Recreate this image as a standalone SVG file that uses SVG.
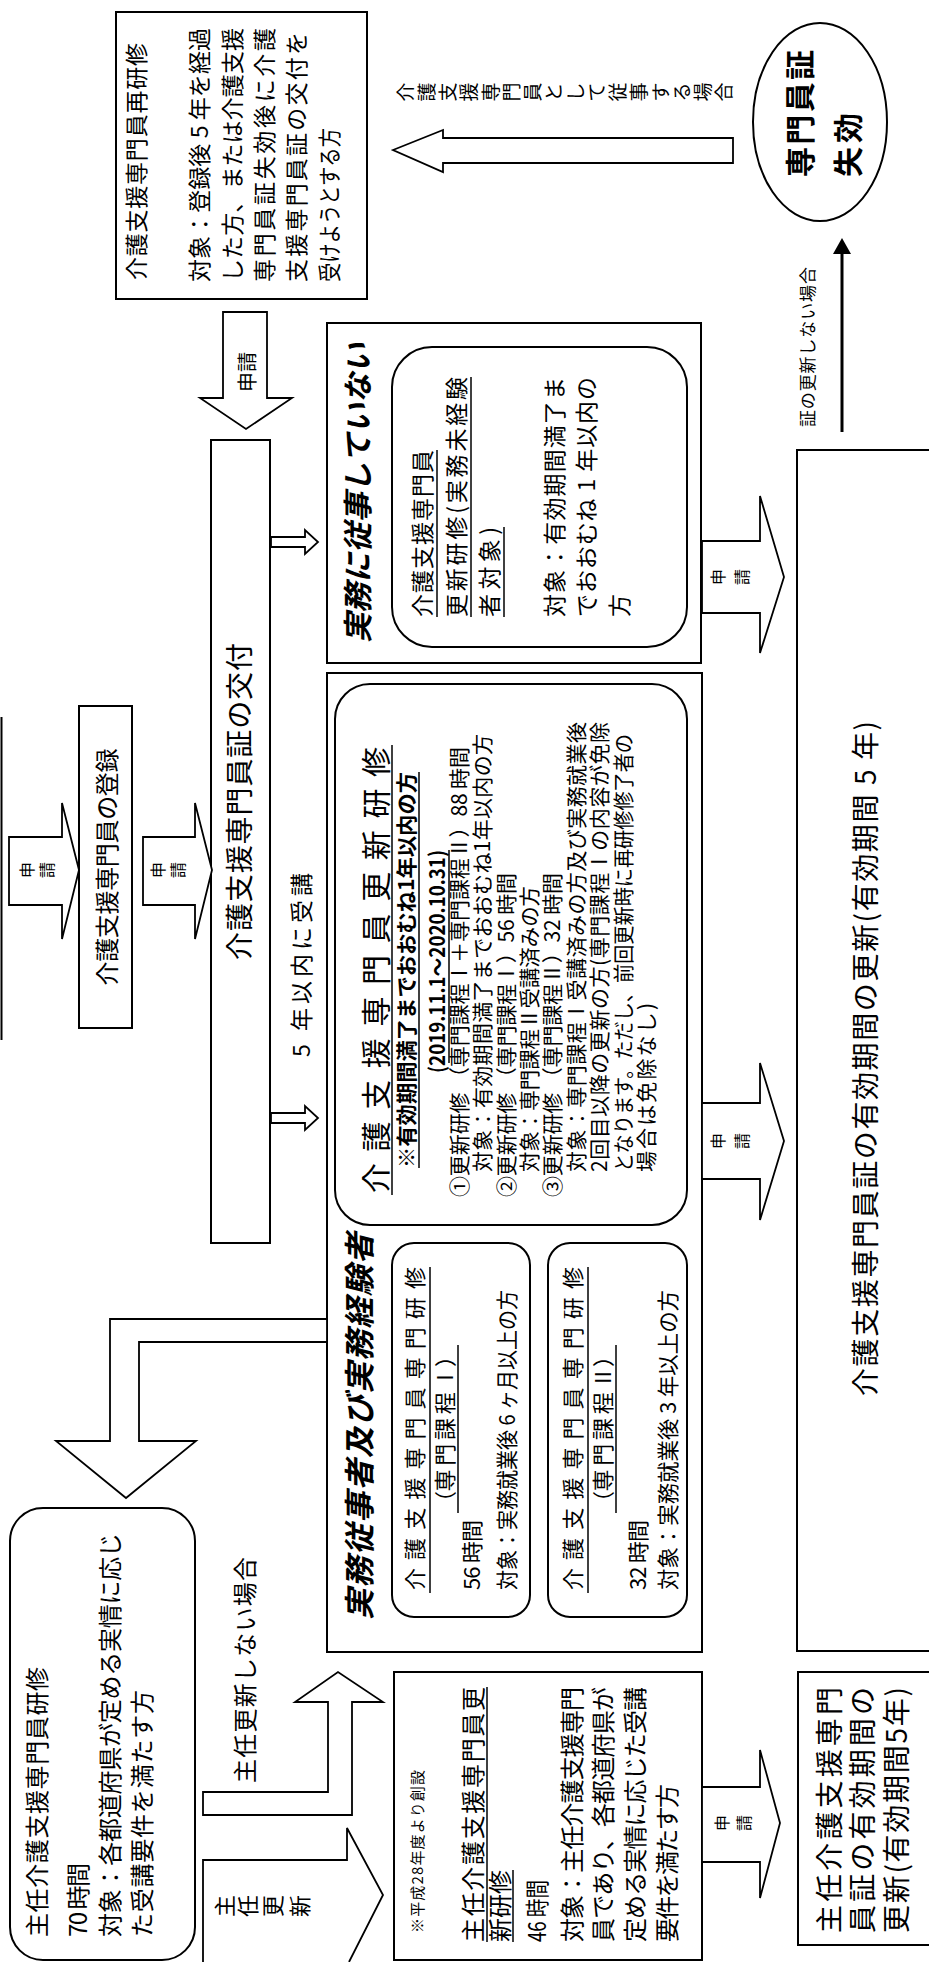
<svg xmlns="http://www.w3.org/2000/svg" width="929" height="1962" viewBox="0 0 929 1962">
<style>
.bx{fill:#fff;stroke:#000;stroke-width:2}
.ar{fill:#fff;stroke:#000;stroke-width:1.8;stroke-linejoin:miter}
.t{font-family:"Noto Sans CJK JP","Liberation Sans",sans-serif;fill:#000}
.ul{stroke:#000;stroke-width:1.5}
.bi{font-weight:bold;font-style:italic}
.b{font-weight:bold}
</style>
<rect x="0" y="0" width="929" height="1962" fill="#fff"/>
<g transform="translate(0,1962) rotate(-90)">
<g id="nodes">
<g id="n-edge"><line x1="922" y1="1.5" x2="1245" y2="1.5" stroke="#000" stroke-width="2"/></g>
<g id="n-saikenshu">
<rect class="bx" x="1663" y="116" width="287" height="251"/>
<text class="t" font-size="23" x="1682" y="145.4" textLength="237">介護支援専門員再研修</text>
<text class="t" font-size="23" x="1680" y="208" textLength="254">対象：登録後 5 年を経過</text>
<text class="t" font-size="23" x="1680" y="241" textLength="254">した方、または介護支援</text>
<text class="t" font-size="23" x="1680" y="273" textLength="254">専門員証失効後に介護</text>
<text class="t" font-size="23" x="1680" y="305" textLength="250">支援専門員証の交付を</text>
<text class="t" font-size="23" x="1680" y="338" textLength="154" lengthAdjust="spacingAndGlyphs">受けようとする方</text>
</g>
<g id="n-shikko">
<ellipse class="bx" cx="1840" cy="820" rx="99" ry="67"/>
<text class="t b" font-size="30" x="1785" y="811" textLength="127">専門員証</text>
<text class="t b" font-size="30" x="1785" y="859" textLength="64">失効</text>
</g>
<g id="n-toroku">
<rect class="bx" x="934" y="79" width="322" height="53"/>
<text class="t" font-size="24" x="1095" y="115.8" text-anchor="middle" textLength="237">介護支援専門員の登録</text>
</g>
<g id="n-kofu">
<rect class="bx" x="719" y="211" width="803" height="59"/>
<text class="t" font-size="28" x="1002" y="250" textLength="317">介護支援専門員証の交付</text>
</g>
<g id="n-mijumu">
<rect class="bx" x="1299" y="327" width="340" height="374"/>
<text class="t bi" font-size="30" x="1319" y="369" textLength="300">実務に従事していない</text>
<rect class="bx" x="1315" y="392" width="300" height="295" rx="40"/>
<text class="t" font-size="23" x="1345" y="431.4" textLength="167">介護支援専門員</text>
<line class="ul" x1="1345" y1="437" x2="1512" y2="437"/>
<text class="t" font-size="23" x="1345" y="465.4" textLength="240">更新研修(実務未経験</text>
<line class="ul" x1="1345" y1="471" x2="1585" y2="471"/>
<text class="t" font-size="23" x="1345" y="498.4" textLength="90">者対象)</text>
<line class="ul" x1="1345" y1="504" x2="1435" y2="504"/>
<text class="t" font-size="23" x="1345" y="563.4" textLength="240">対象：有効期間満了ま</text>
<text class="t" font-size="23" x="1345" y="595.4" textLength="240">でおおむね 1 年以内の</text>
<text class="t" font-size="23" x="1345" y="628.4">方</text>
</g>
<g id="n-jumu">
<rect class="bx" x="310" y="327" width="979" height="375"/>
<text class="t bi" font-size="31" x="342" y="371" textLength="387">実務従事者及び実務経験者</text>
<rect class="bx" x="737" y="335" width="541" height="352" rx="35"/>
<text class="t" font-size="30" x="769" y="387" textLength="446">介 護 支 援 専 門 員 更 新 研 修</text>
<line class="ul" x1="767" y1="392" x2="1217" y2="392"/>
<text class="t b" font-size="21" x="794" y="413.7" textLength="396" lengthAdjust="spacingAndGlyphs">※有効期間満了までおおむね1年以内の方</text>
<line class="ul" x1="794" y1="419" x2="1190" y2="419"/>
<text class="t b" font-size="21" x="889" y="444.7" textLength="223" lengthAdjust="spacingAndGlyphs">(2019.11.1～2020.10.31)</text>
<line class="ul" x1="899" y1="449" x2="1112" y2="449"/>
<text class="t" font-size="21" x="765" y="466.7" textLength="450">①更新研修 （専門課程Ⅰ＋専門課程Ⅱ）88 時間</text>
<text class="t" font-size="21" x="790" y="490.1" textLength="438">対象：有効期間満了までおおむね1年以内の方</text>
<text class="t" font-size="21" x="765" y="513.5" textLength="324">②更新研修 （専門課程Ⅰ）56 時間</text>
<text class="t" font-size="21" x="790" y="536.9" textLength="286" lengthAdjust="spacingAndGlyphs">対象：専門課程Ⅱ受講済みの方</text>
<text class="t" font-size="21" x="765" y="560.3" textLength="324">③更新研修 （専門課程Ⅱ）32 時間</text>
<text class="t" font-size="21" x="790" y="583.7" textLength="450">対象：専門課程Ⅰ受講済みの方及び実務就業後</text>
<text class="t" font-size="21" x="790" y="607.1" textLength="450">2回目以降の更新の方(専門課程Ⅰの内容が免除</text>
<text class="t" font-size="21" x="790" y="630.5" textLength="438" lengthAdjust="spacingAndGlyphs">となります。ただし、前回更新時に再研修修了者の</text>
<text class="t" font-size="21" x="790" y="653.9" textLength="169">場合は免除なし)</text>
<rect class="bx" x="345" y="392" width="374" height="138" rx="22"/>
<text class="t" font-size="22" x="372" y="423" textLength="323">介 護 支 援 専 門 員 専 門 研 修</text>
<line class="ul" x1="369" y1="430" x2="695" y2="430"/>
<text class="t" font-size="22" x="449" y="453" textLength="168">（専 門 課 程 Ⅰ）</text>
<line class="ul" x1="449" y1="458" x2="617" y2="458"/>
<text class="t" font-size="22" x="372" y="480" textLength="70">56 時間</text>
<text class="t" font-size="22" x="372" y="515" textLength="300" lengthAdjust="spacingAndGlyphs">対象：実務就業後 6 ヶ月以上の方</text>
<rect class="bx" x="345" y="548" width="374" height="139" rx="22"/>
<text class="t" font-size="22" x="372" y="581" textLength="323">介 護 支 援 専 門 員 専 門 研 修</text>
<line class="ul" x1="369" y1="588" x2="695" y2="588"/>
<text class="t" font-size="22" x="449" y="611" textLength="168">（専 門 課 程 Ⅱ）</text>
<line class="ul" x1="449" y1="616" x2="617" y2="616"/>
<text class="t" font-size="22" x="372" y="646" textLength="70">32 時間</text>
<text class="t" font-size="22" x="372" y="676" textLength="300" lengthAdjust="spacingAndGlyphs">対象：実務就業後 3 年以上の方</text>
</g>
<g id="n-shunin-kenshu">
<rect class="bx" x="2" y="10" width="452" height="185" rx="33"/>
<text class="t" font-size="24" x="25" y="45.8" textLength="270">主任介護支援専門員研修</text>
<text class="t" font-size="24" x="25" y="86.8" textLength="74">70 時間</text>
<text class="t" font-size="24" x="25" y="118.8" textLength="404">対象：各都道府県が定める実情に応じ</text>
<text class="t" font-size="24" x="25" y="150.8" textLength="247">た受講要件を満たす方</text>
</g>
<g id="n-shunin-koshin">
<rect class="bx" x="2" y="394" width="288" height="308"/>
<text class="t" font-size="15" x="29" y="422.5" textLength="163">※平成28年度より創設</text>
<text class="t" font-size="24" x="20" y="481.8" textLength="255">主任介護支援専門員更</text>
<line class="ul" x1="20" y1="487" x2="275" y2="487"/>
<text class="t" font-size="24" x="20" y="508.8" textLength="72">新研修</text>
<line class="ul" x1="20" y1="513" x2="92" y2="513"/>
<text class="t" font-size="24" x="20" y="545.8" textLength="62" lengthAdjust="spacingAndGlyphs">46 時間</text>
<text class="t" font-size="24" x="20" y="580.8" textLength="255">対象：主任介護支援専門</text>
<text class="t" font-size="24" x="20" y="611.8" textLength="255">員であり、各都道府県が</text>
<text class="t" font-size="24" x="20" y="643.8" textLength="255">定める実情に応じた受講</text>
<text class="t" font-size="24" x="20" y="675.8" textLength="158">要件を満たす方</text>
</g>
<g id="n-shunin-yuko">
<rect class="bx" x="17" y="798" width="273" height="132"/>
<text class="t" font-size="28" x="29" y="840" textLength="246">主任介護支援専門</text>
<text class="t" font-size="28" x="29" y="873" textLength="246">員証の有効期間の</text>
<text class="t" font-size="28" x="29" y="907" textLength="246">更新(有効期間5年)</text>
</g>
<g id="n-yuko">
<rect class="bx" x="311" y="797" width="1201" height="133"/>
<text class="t" font-size="28" x="566" y="876" textLength="675">介護支援専門員証の有効期間の更新(有効期間 5 年)</text>
</g>
</g>
<g id="connectors">
<polygon class="ar" points="1057,9 1125,9 1125,62 1159,62 1092,79 1023,62 1057,62"/>
<text class="t" font-size="16" text-anchor="middle"><tspan x="1092" y="32.8">申</tspan><tspan x="1092" y="52.8">請</tspan></text>
<polygon class="ar" points="1057,143 1125,143 1125,195 1159,195 1092,212 1023,195 1057,195"/>
<text class="t" font-size="16" text-anchor="middle"><tspan x="1092" y="163.8">申</tspan><tspan x="1092" y="183.8">請</tspan></text>
<polygon class="ar" points="1650,223 1564,223 1564,200 1533,246 1564,292 1564,267 1650,267"/>
<text class="t" font-size="20" x="1590" y="255" text-anchor="middle">申請</text>
<polygon class="ar" points="1812,393 1832,443 1824,443 1824,733 1799,733 1799,443 1790,443"/>
<text class="t" font-size="19" text-anchor="middle"><tspan x="1870" y="412.5">介</tspan><tspan x="1870" y="433.8">護</tspan><tspan x="1870" y="455">支</tspan><tspan x="1870" y="476.3">援</tspan><tspan x="1870" y="497.5">専</tspan><tspan x="1870" y="518.8">門</tspan><tspan x="1870" y="540">員</tspan><tspan x="1870" y="561.3">と</tspan><tspan x="1870" y="582.5">し</tspan><tspan x="1870" y="603.8">て</tspan><tspan x="1870" y="625">従</tspan><tspan x="1870" y="646.3">事</tspan><tspan x="1870" y="667.5">す</tspan><tspan x="1870" y="688.8">る</tspan><tspan x="1870" y="710">場</tspan><tspan x="1870" y="731.3">合</tspan></text>
<line x1="1530" y1="842" x2="1712" y2="842" stroke="#000" stroke-width="3"/>
<polygon points="1724,842 1708,833 1708,851" fill="#000"/>
<text class="t" font-size="17" x="1535" y="814" textLength="160">証の更新しない場合</text>
<polygon class="ar" points="1415,271 1425,271 1425,305 1432,305 1420,318 1408,305 1415,305"/>
<polygon class="ar" points="839,271 849,271 849,305 856,305 844,318 832,305 839,305"/>
<text class="t" font-size="23" x="905" y="310" textLength="184">5 年以内に受講</text>
<polygon class="ar" points="643,327 643,110 521,110 521,56 464,126 521,196 521,139 620,139 620,327"/>
<text class="t" font-size="24" x="179" y="253.8" textLength="226">主任更新しない場合</text>
<polygon class="ar" points="170,203 170,328 260,328 260,295 290,338 260,383 260,352 147,352 147,203"/>
<path class="ar" d="M-2,203 L102,203 L102,347 L134,347 L67,383 L0,349"/>
<text class="t" font-size="22" text-anchor="middle"><tspan x="56" y="233">主</tspan><tspan x="56" y="256">任</tspan><tspan x="56" y="281">更</tspan><tspan x="56" y="308">新</tspan></text>
<polygon class="ar" points="100,702 175,702 175,760 212,760 139,780 64,760 100,760"/>
<text class="t" font-size="16" text-anchor="middle"><tspan x="139" y="728">申</tspan><tspan x="139" y="750">請</tspan></text>
<polygon class="ar" points="1349,702 1421,702 1421,760 1466,760 1385,784 1309,760 1349,760"/>
<text class="t" font-size="16" text-anchor="middle"><tspan x="1385" y="724">申</tspan><tspan x="1385" y="748">請</tspan></text>
<polygon class="ar" points="783,702 859,702 859,760 899,760 821,784 742,760 783,760"/>
<text class="t" font-size="16" text-anchor="middle"><tspan x="821" y="724">申</tspan><tspan x="821" y="748">請</tspan></text>
</g>
</g>
</svg>
